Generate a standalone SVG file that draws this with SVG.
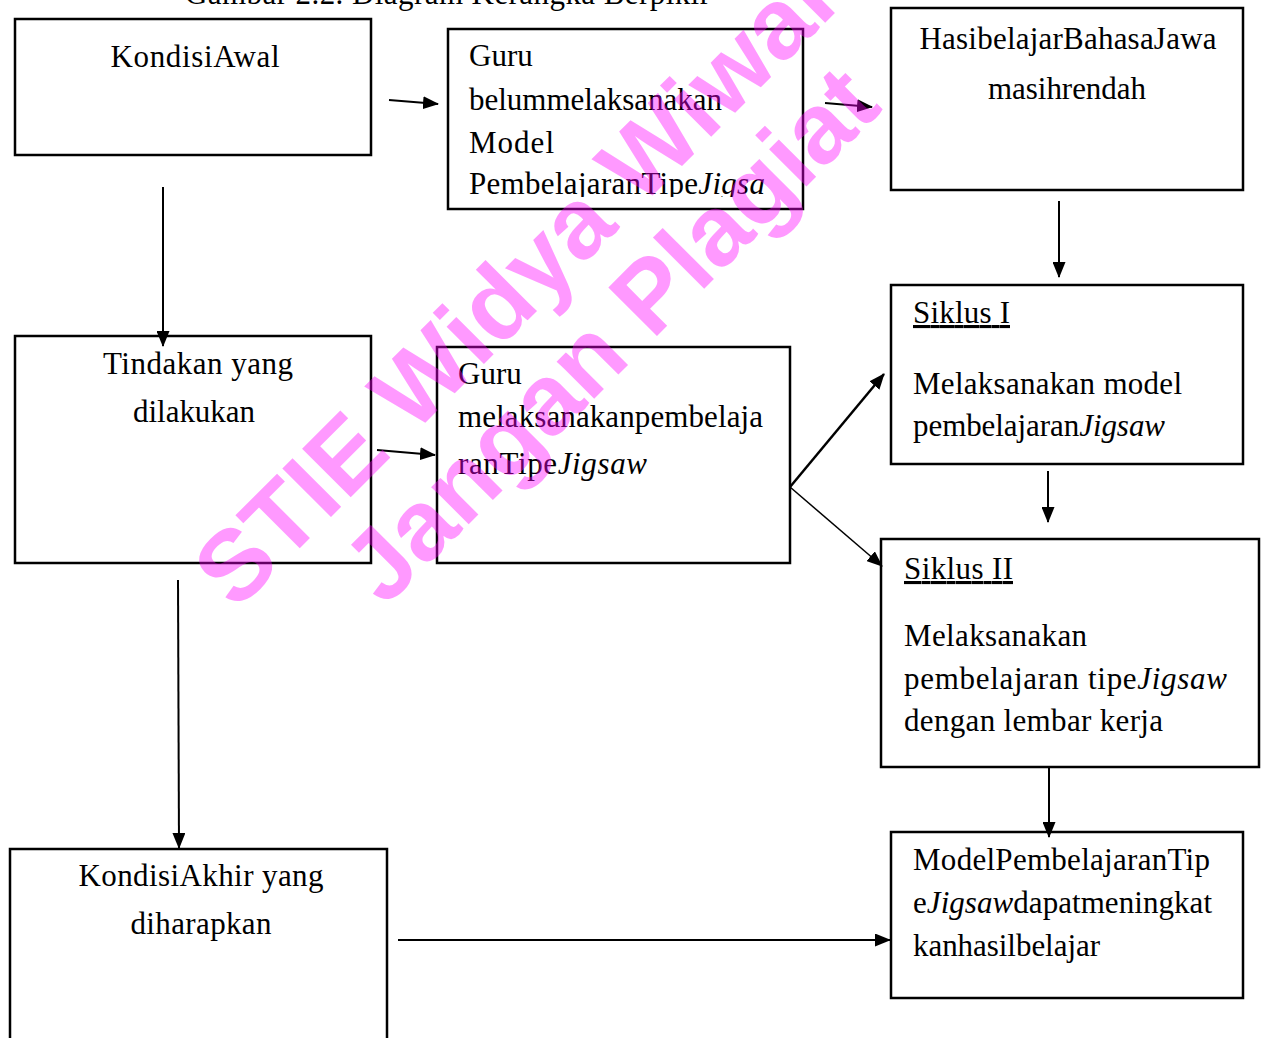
<svg xmlns="http://www.w3.org/2000/svg" width="1264" height="1038" viewBox="0 0 1264 1038">
<defs>
<marker id="ah" markerUnits="userSpaceOnUse" markerWidth="16" markerHeight="13" refX="15" refY="6.5" orient="auto"><path d="M0,0 L16,6.5 L0,13 z" fill="#000"/></marker>
<clipPath id="clipG1"><rect x="440" y="20" width="370" height="177"/></clipPath>
</defs>
<style>
.box{fill:#fff;stroke:#000;stroke-width:2.5}
.t{font-family:"Liberation Serif","Times New Roman",serif;font-size:31px;fill:#000}
.c{text-anchor:middle}
.i{font-style:italic}
.u{text-decoration:underline}
.conn line{stroke:#000;stroke-width:2;marker-end:url(#ah)}
.wm{font-family:"Liberation Sans",Arial,sans-serif;font-weight:bold;font-size:100px;fill:#ff00ff;fill-opacity:0.4}
</style>
<rect width="1264" height="1038" fill="#fff"/>
<text class="t" x="185" y="4" textLength="525" lengthAdjust="spacing">Gambar 2.2. Diagram Kerangka Berpikir</text>

<g id="kondisi-awal"><rect class="box" x="15" y="19" width="356" height="136"/><text class="t c" x="195" y="67" textLength="169" lengthAdjust="spacing">KondisiAwal</text></g>

<g id="guru-belum"><rect class="box" x="448" y="29" width="355" height="180"/>
<g clip-path="url(#clipG1)">
<text class="t" x="469" y="66">Guru</text>
<text class="t" x="469" y="110" textLength="253" lengthAdjust="spacing">belummelaksanakan</text>
<text class="t" x="469" y="153" textLength="85" lengthAdjust="spacing">Model</text>
<text class="t" x="469" y="194" textLength="296" lengthAdjust="spacing">PembelajaranTipe<tspan class="i">Jigsa</tspan></text>
</g></g>

<g id="hasil"><rect class="box" x="891" y="8" width="352" height="182"/>
<text class="t c" x="1068" y="49" textLength="297" lengthAdjust="spacing">HasibelajarBahasaJawa</text>
<text class="t c" x="1067" y="99" textLength="158" lengthAdjust="spacing">masihrendah</text></g>

<g id="tindakan"><rect class="box" x="15" y="336" width="356" height="227"/>
<text class="t c" x="198" y="374" textLength="190" lengthAdjust="spacing">Tindakan yang</text>
<text class="t c" x="194" y="422" textLength="122" lengthAdjust="spacing">dilakukan</text></g>

<g id="guru-melaksanakan"><rect class="box" x="437" y="347" width="353" height="216"/>
<text class="t" x="458" y="384">Guru</text>
<text class="t" x="458" y="427" textLength="305" lengthAdjust="spacing">melaksanakanpembelaja</text>
<text class="t" x="458" y="474" textLength="189" lengthAdjust="spacing">ranTipe<tspan class="i">Jigsaw</tspan></text></g>

<g id="siklus-1"><rect class="box" x="891" y="285" width="352" height="179"/>
<text class="t u" x="913" y="323" textLength="97" lengthAdjust="spacing">Siklus I</text>
<text class="t" x="913" y="394" textLength="269" lengthAdjust="spacing">Melaksanakan model</text>
<text class="t" x="913" y="436" textLength="252" lengthAdjust="spacing">pembelajaran<tspan class="i">Jigsaw</tspan></text></g>

<g id="siklus-2"><rect class="box" x="881" y="539" width="378" height="228"/>
<text class="t u" x="904" y="579" textLength="109" lengthAdjust="spacing">Siklus II</text>
<text class="t" x="904" y="646" textLength="183" lengthAdjust="spacing">Melaksanakan</text>
<text class="t" x="904" y="689" textLength="323" lengthAdjust="spacing">pembelajaran tipe<tspan class="i">Jigsaw</tspan></text>
<text class="t" x="904" y="731" textLength="259" lengthAdjust="spacing">dengan lembar kerja</text></g>

<g id="model-jigsaw"><rect class="box" x="891" y="832" width="352" height="166"/>
<text class="t" x="913" y="870" textLength="297" lengthAdjust="spacing">ModelPembelajaranTip</text>
<text class="t" x="913" y="913" textLength="299" lengthAdjust="spacing">e<tspan class="i">Jigsaw</tspan>dapatmeningkat</text>
<text class="t" x="913" y="956" textLength="187" lengthAdjust="spacing">kanhasilbelajar</text></g>

<g id="kondisi-akhir"><rect class="box" x="10" y="849" width="377" height="200"/>
<text class="t c" x="201" y="886" textLength="245" lengthAdjust="spacing">KondisiAkhir yang</text>
<text class="t c" x="201" y="934" textLength="141" lengthAdjust="spacing">diharapkan</text></g>

<g id="connectors" class="conn">
<line x1="389" y1="100" x2="438" y2="104"/>
<line x1="825" y1="103" x2="872" y2="107"/>
<line x1="1059" y1="201" x2="1059" y2="277"/>
<line x1="163" y1="187" x2="163" y2="346"/>
<line x1="377" y1="450" x2="435" y2="455"/>
<line x1="790" y1="487" x2="884" y2="374" style="stroke-width:2.5"/>
<line x1="790" y1="487" x2="882" y2="566" style="stroke-width:1.5"/>
<line x1="1048" y1="471" x2="1048" y2="522"/>
<line x1="1049" y1="767" x2="1049" y2="837"/>
<line x1="178" y1="580" x2="179" y2="848"/>
<line x1="398" y1="940" x2="890" y2="940"/>
</g>

<g id="watermark">
<text class="wm" transform="translate(236,612) rotate(-45)">STIE Widya Wiwaha</text>
<text class="wm" transform="translate(385,608) rotate(-45)">Jangan Plagiat</text>
</g>
</svg>
